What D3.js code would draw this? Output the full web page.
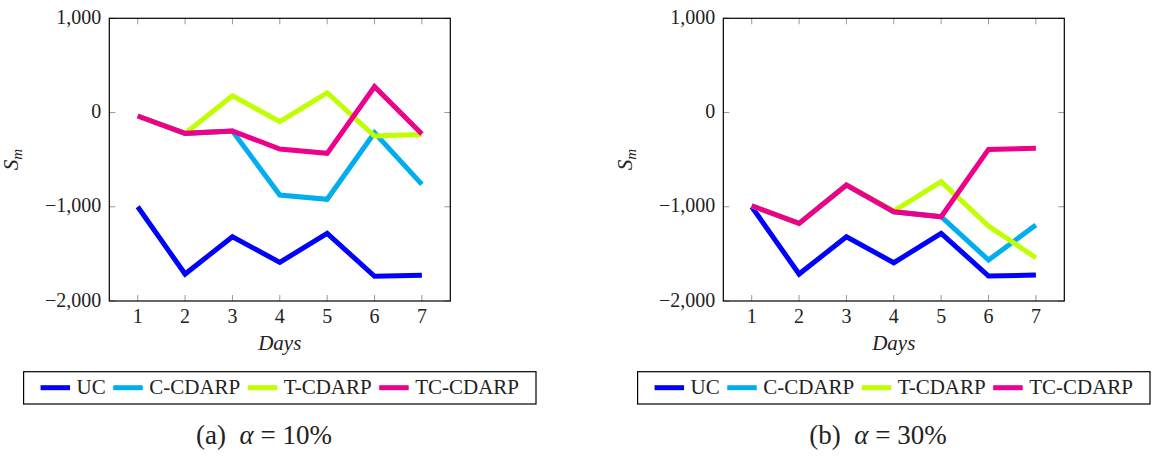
<!DOCTYPE html>
<html>
<head>
<meta charset="utf-8">
<script src="https://cdn.jsdelivr.net/npm/d3@7"></script>
<style>
  html, body { margin: 0; padding: 0; background: #fff; }
  svg, svg text { font-family: 'Liberation Serif', 'Times New Roman', Tinos, 'DejaVu Serif', 'Noto Serif', serif; }
</style>
</head>
<body>
<svg id="chart" width="1152" height="457"></svg>
<script>
// ---- data ----
const days = [1, 2, 3, 4, 5, 6, 7];
const seriesNames = ["UC", "C-CDARP", "T-CDARP", "TC-CDARP"];
const seriesColors = ["#0000ff", "#00aeef", "#bfff00", "#ec008c"];
const yTicks = [-2000, -1000, 0, 1000];

// panel (a) alpha = 10%
const a_UC     = [-1000, -1714, -1318, -1590, -1282, -1738, -1728];
const a_CCDARP = [-37, -221, -196, -876, -921, -214, -762];
const a_TCDARP = [-37, -221, 178, -97, 210, -249, -232];
const a_TCCDARP = [-37, -221, -196, -387, -433, 274, -228];

// panel (b) alpha = 30%
const b_UC     = [-1000, -1714, -1318, -1594, -1282, -1735, -1725];
const b_CCDARP = [-989, -1176, -769, -1053, -1106, -1565, -1194];
const b_TCDARP = [-989, -1176, -769, -1045, -734, -1204, -1541];
const b_TCCDARP = [-989, -1176, -769, -1053, -1106, -391, -380];

const captionA = "10%";
const captionB = "30%";

// ---- drawing ----
const FONT = "'Liberation Serif', 'Times New Roman', Tinos, 'DejaVu Serif', 'Noto Serif', serif";
const svg = d3.select("#chart").attr("font-family", FONT);
const fmt = d => (d < 0 ? "\u2212" : "") + d3.format(",")(Math.abs(d));

function txt(g) { return g.append("text").attr("font-family", FONT).attr("fill", "#222"); }

function panel(offset, series, letter, pct) {
  const left = 109.3 + offset, right = 450.3 + offset, top = 18.3, bottom = 301;
  const x = d3.scaleLinear().domain([0.4, 7.6]).range([left, right]);
  const y = d3.scaleLinear().domain([-2000, 1000]).range([bottom, top]);
  const g = svg.append("g");

  const tl = 6;
  yTicks.forEach(t => {
    g.append("line").attr("x1", left).attr("x2", left + tl).attr("y1", y(t)).attr("y2", y(t))
      .attr("stroke", "#999").attr("stroke-width", 1);
    g.append("line").attr("x1", right).attr("x2", right - tl).attr("y1", y(t)).attr("y2", y(t))
      .attr("stroke", "#999").attr("stroke-width", 1);
    txt(g).attr("x", left - 8).attr("y", y(t) + 5.5)
      .attr("text-anchor", "end").attr("font-size", 20).text(fmt(t));
  });
  days.forEach(d => {
    g.append("line").attr("x1", x(d)).attr("x2", x(d)).attr("y1", bottom).attr("y2", bottom - tl)
      .attr("stroke", "#999").attr("stroke-width", 1);
    g.append("line").attr("x1", x(d)).attr("x2", x(d)).attr("y1", top).attr("y2", top + tl)
      .attr("stroke", "#999").attr("stroke-width", 1);
    txt(g).attr("x", x(d)).attr("y", 322.7)
      .attr("text-anchor", "middle").attr("font-size", 20).text(d);
  });

  const line = d3.line().x((d, i) => x(days[i])).y(d => y(d)).curve(d3.curveLinear);
  series.forEach((s, k) => {
    g.append("path").datum(s).attr("d", line).attr("fill", "none")
      .attr("stroke", seriesColors[k]).attr("stroke-width", 5)
      .attr("stroke-linejoin", "miter").attr("stroke-linecap", "butt");
  });

  g.append("rect").attr("x", left).attr("y", top).attr("width", right - left).attr("height", bottom - top)
    .attr("fill", "none").attr("stroke", "#000").attr("stroke-width", 1.2);

  const yl = txt(g).attr("transform", `translate(${left - 91},${(top + bottom) / 2}) rotate(-90)`)
    .attr("text-anchor", "middle").attr("font-size", 21);
  yl.append("tspan").attr("font-style", "italic").text("S");
  yl.append("tspan").attr("font-style", "italic").attr("font-size", 15).attr("dy", 4).text("m");

  txt(g).attr("x", (left + right) / 2).attr("y", 349.5).attr("text-anchor", "middle")
    .attr("font-size", 21).attr("font-style", "italic").text("Days");

  const bx0 = (left + right) / 2 - 256.2, bw = 512.4, by0 = 371.7, bh = 32.3;
  g.append("rect").attr("x", bx0).attr("y", by0).attr("width", bw).attr("height", bh)
    .attr("fill", "#fff").attr("stroke", "#000").attr("stroke-width", 1.2);
  const lg = g.append("g");
  let cx = 0;
  seriesNames.forEach((n, k) => {
    lg.append("line").attr("x1", cx).attr("x2", cx + 29.5).attr("y1", 387.7).attr("y2", 387.7)
      .attr("stroke", seriesColors[k]).attr("stroke-width", 5);
    const t = txt(lg).attr("x", cx + 36).attr("y", 394.3).attr("font-size", 21).text(n);
    cx += 36 + t.node().getComputedTextLength() + 7.5;
  });
  const total = cx - 7.5;
  lg.attr("transform", `translate(${bx0 + (bw - total) / 2},0)`);

  const cap = txt(g).attr("x", 264 + offset).attr("y", 443.5).attr("text-anchor", "middle")
    .attr("font-size", 27);
  cap.append("tspan").text(`(${letter})\u2002`);
  cap.append("tspan").attr("font-style", "italic").text("\u03b1");
  cap.append("tspan").text(" = " + pct);
}

panel(0, [a_UC, a_CCDARP, a_TCDARP, a_TCCDARP], "a", captionA);
panel(614, [b_UC, b_CCDARP, b_TCDARP, b_TCCDARP], "b", captionB);
</script>
</body>
</html>
